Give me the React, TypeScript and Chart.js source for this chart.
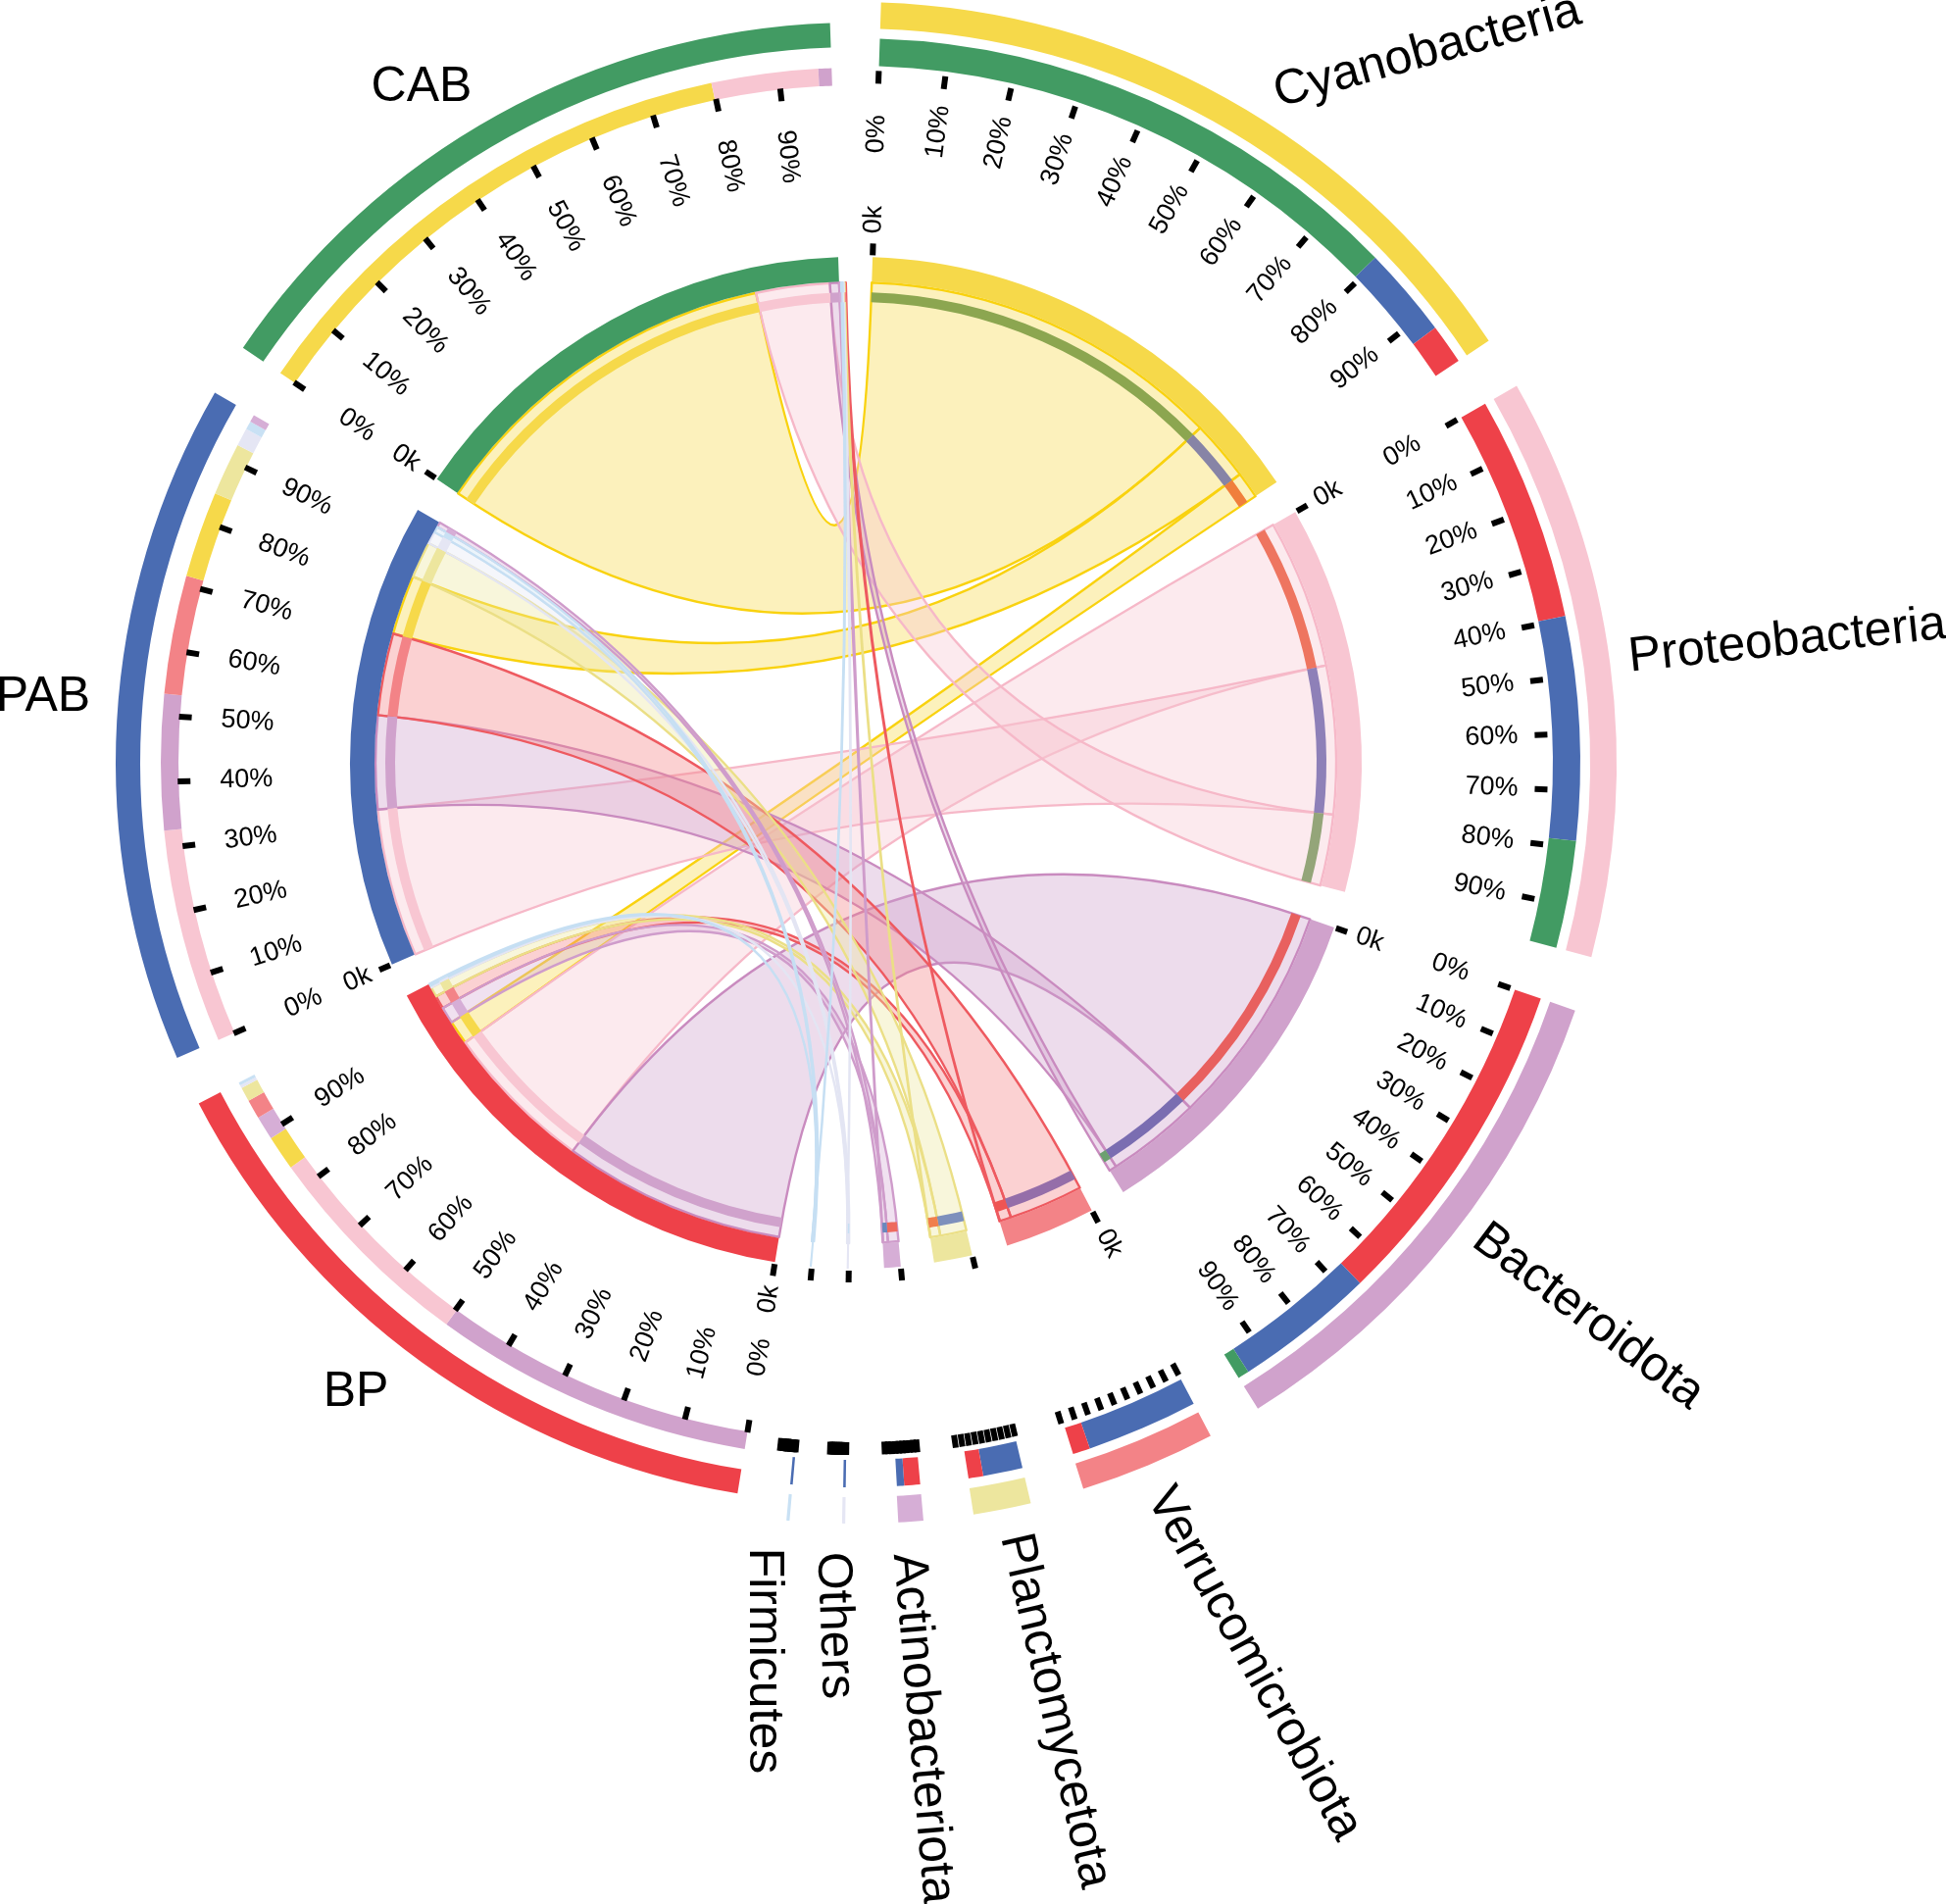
import React, { useEffect, useRef } from "react";
import { Chart, registerables } from "chart.js";

Chart.register(...registerables);

// ---------- data ----------
const sectorNames = ["Cyanobacteria", "Proteobacteria", "Bacteroidota", "Verrucomicrobiota", "Planctomycetota", "Actinobacteriota", "Others", "Firmicutes", "BP", "PAB", "CAB"];
const sectorTotals = [54.4, 44.5, 39.1, 10.4, 4.4, 1.9, 0.24, 0.24, 53.4, 53.5, 53.9];
const linkEndTotals = [54.4, 44.5, 39.1, 10.4, 4.4, 1.9, 0.24, 0.24, 53.4, 53.5, 54.7];
const sectorGaps = [4, 4.2, 4.1, 4.1, 3.8, 4, 3.96, 3.96, 3.9, 4.1, 2];
const leadGap = 1.9;
const tickTotals = [55.3, 45.6, 40.4, 11.7, 5.55, 3.0, 1.5, 1.45, 54, 54.8, 55];
const percentLabels = ["0%", "10%", "20%", "30%", "40%", "50%", "60%", "70%", "80%", "90%"];
const zeroLabel = "0k";
const labelledPercent = [0, 1, 2, 8, 9, 10];
const labelledZero = [0, 1, 2, 3, 8, 9, 10];
const leftSectors = [8, 9, 10];

const linkFrom = [0, 0, 0, 1, 1, 1, 2, 2, 2, 3, 3, 4, 4, 5, 5, 6, 6, 7, 7, 3, 4, 5, 6, 7];
const linkTo = [10, 9, 8, 8, 9, 10, 8, 9, 10, 9, 8, 9, 8, 8, 9, 9, 8, 9, 8, 10, 10, 10, 10, 10];
const linkFromValue = [43.9, 7.3, 3.2, 18, 17.9, 8.6, 26.9, 11.3, 0.9, 9, 1.4, 3.2, 1.2, 1.3, 0.6, 0.2, 0.02, 0.2, 0.02, 0.05, 0.05, 0.05, 0.02, 0.02];
const linkToValue = [43.9, 7.2, 2.9, 18.3, 17.9, 8.9, 26.9, 11.3, 1.1, 9.9, 1.6, 4.4, 1.2, 2.0, 0.6, 1.5, 0.25, 0.7, 0.25, 0.15, 0.1, 0.25, 0.15, 0.15];
const leftOrderBP = [6, 3, 2, 13, 10, 12, 16, 18];
const leftOrderPAB = [4, 7, 9, 1, 11, 15, 17, 14];
const leftOrderCAB = [0, 5, 8, 21, 23, 22, 20, 19];

// ---------- styles ----------
const sectorColors = ["#F6D94A", "#F8C6D2", "#D0A2CC", "#F38387", "#EDE69E", "#D6AED6", "#E5E6F4", "#C9E1F4", "#EE4149", "#4A6CB2", "#429B63"];
const linkStrokes = ["#F9D20F", "#F6B8C8", "#C98BBF", "#EE5A60", "#EBDF86", "#CF9CCB", "#E3E5F3", "#C6DFF3"];
const linkFillAlpha = "5F";
const rightInnerColors = ["#8CA650", "#8784A6", "#F07F3C", "#EE7560", "#8E80B8", "#94A579", "#E8605F", "#7A6DB1", "#6CA070", "#956EA9", "#EE5553", "#7E90BC", "#F07F4C", "#EE6A5E", "#6B88BD", "#C6DFF3", "#E3E5F3", "#C6DFF3", "#E3E5F3", "#EE5553", "#EDE69E", "#D6AED6", "#E3E5F3", "#C6DFF3"];
const CLEAR = "rgba(0,0,0,0)";

const FONT = '"Liberation Sans", Arial, sans-serif';
const RADII = {
  ringA: [491, 516],
  ringB: [470, 480],
  chord: 490,
  rightOuter: [749, 776],
  rightMid: [711, 739],
  leftOuter: [730, 755],
  leftMid: [691, 709],
  rightTick: [693, 706],
  leftTick: [679, 692],
  zeroTick: [518, 530],
  rightText: 622,
  leftText: 595,
  zeroText: 540,
};
const nameLayout: [number, number, number][] = [
  [1456, 53, -15.5],
  [1823, 654, -6],
  [1620, 1343, 37],
  [1279, 1697, 61],
  [1076, 1745, 77],
  [941, 1763, 85],
  [851, 1658, 88],
  [779, 1694, 90],
  [363, 1420, 0],
  [44, 711, 0],
  [430, 89, 0],
];

// ---------- ring builders ----------
type Tag = { link: number; side: "from" | "to" } | null;

function sectorLinks(s: number): { link: number; value: number; side: "from" | "to" }[] {
  if (leftSectors.includes(s)) {
    const order = s === 8 ? leftOrderBP : s === 9 ? leftOrderPAB : leftOrderCAB;
    return order.map((l) => ({ link: l, value: linkToValue[l], side: "to" as const }));
  }
  const out: { link: number; value: number; side: "from" | "to" }[] = [];
  linkFrom.forEach((f, l) => {
    if (f === s) out.push({ link: l, value: linkFromValue[l], side: "from" });
  });
  return out;
}

function segColor(l: number, side: "from" | "to") {
  return side === "from" ? sectorColors[linkTo[l]] : sectorColors[linkFrom[l]];
}

// whole sectors, only where keep(s)
function wholeRing(keep: (s: number) => boolean) {
  const data: number[] = [leadGap];
  const colors: string[] = [CLEAR];
  sectorTotals.forEach((t, s) => {
    data.push(t, sectorGaps[s]);
    colors.push(keep(s) ? sectorColors[s] : CLEAR, CLEAR);
  });
  return { data, colors };
}

// sectors split in their links, only where keep(s)
function splitRing(keep: (s: number) => boolean, inner: boolean) {
  const data: number[] = [leadGap];
  const colors: string[] = [CLEAR];
  const tags: Tag[] = [null];
  sectorTotals.forEach((t, s) => {
    const segs = sectorLinks(s);
    const sum = segs.reduce((a, b) => a + b.value, 0);
    const total = linkEndTotals[s];
    segs.forEach((seg) => {
      data.push((seg.value / sum) * total);
      const hiddenInOuterRing = !inner && (seg.side === "from" ? seg.value <= 0.05 : seg.link >= 19);
      const c = inner && seg.side === "from" ? rightInnerColors[seg.link] : segColor(seg.link, seg.side);
      colors.push(keep(s) && !hiddenInOuterRing ? c : CLEAR);
      tags.push({ link: seg.link, side: seg.side });
    });
    data.push(sectorGaps[s] + t - total);
    colors.push(CLEAR);
    tags.push(null);
  });
  return { data, colors, tags };
}

const isLeft = (s: number) => leftSectors.includes(s);
const isRight = (s: number) => !leftSectors.includes(s);
const ringA = wholeRing(() => true);
const ringB = splitRing(() => true, true);
const rightOuter = wholeRing(isRight);
const rightMid = splitRing(isRight, false);
const leftOuter = wholeRing(isLeft);
const leftMid = splitRing(isLeft, false);

const bandPlugin = {
  id: "bands",
  afterDatasetsUpdate(chart: any) {
    chart.data.datasets.forEach((ds: any, i: number) => {
      chart.getDatasetMeta(i).data.forEach((arc: any) => {
        arc.innerRadius = ds.band[0];
        arc.outerRadius = ds.band[1];
      });
    });
  },
};

const chordPlugin = {
  id: "chords",
  beforeDatasetsDraw(chart: any) {
    const ctx = chart.ctx as CanvasRenderingContext2D;
    const arcs = chart.getDatasetMeta(1).data;
    const fromArc: any[] = [];
    const toArc: any[] = [];
    ringB.tags.forEach((t, i) => {
      if (t) (t.side === "from" ? fromArc : toArc)[t.link] = arcs[i];
    });
    const cx = arcs[0].x;
    const cy = arcs[0].y;
    const r = RADII.chord;
    const pt = (a: number) => [cx + r * Math.cos(a), cy + r * Math.sin(a)];
    ctx.save();
    ctx.lineJoin = "round";
    linkFrom.forEach((f, l) => {
      const a = fromArc[l];
      const b = toArc[l];
      const p0 = pt(a.startAngle);
      const p1 = pt(b.startAngle);
      ctx.beginPath();
      ctx.moveTo(p0[0], p0[1]);
      ctx.arc(cx, cy, r, a.startAngle, a.endAngle, false);
      ctx.quadraticCurveTo(cx, cy, p1[0], p1[1]);
      ctx.arc(cx, cy, r, b.startAngle, b.endAngle, false);
      ctx.quadraticCurveTo(cx, cy, p0[0], p0[1]);
      ctx.closePath();
      ctx.fillStyle = sectorColors[f] + linkFillAlpha;
      ctx.fill();
      ctx.strokeStyle = linkStrokes[f];
      ctx.lineWidth = 2.4;
      ctx.stroke();
    });
    ctx.restore();
  },
};

const annotationPlugin = {
  id: "annotations",
  afterDatasetsDraw(chart: any) {
    const ctx = chart.ctx as CanvasRenderingContext2D;
    const arcs = chart.getDatasetMeta(0).data;
    const cx = arcs[0].x;
    const cy = arcs[0].y;
    const tick = (a: number, rr: number[]) => {
      ctx.beginPath();
      ctx.moveTo(cx + rr[0] * Math.cos(a), cy + rr[0] * Math.sin(a));
      ctx.lineTo(cx + rr[1] * Math.cos(a), cy + rr[1] * Math.sin(a));
      ctx.stroke();
    };
    const radial = (a: number, r: number, text: string) => {
      const onRight = a + Math.PI / 2 < Math.PI;
      ctx.save();
      ctx.translate(cx + r * Math.cos(a), cy + r * Math.sin(a));
      ctx.rotate(onRight ? a : a + Math.PI);
      ctx.textAlign = onRight ? "left" : "right";
      ctx.fillText(text, 0, 0);
      ctx.restore();
    };
    ctx.save();
    ctx.strokeStyle = "#000";
    ctx.lineWidth = 6;
    ctx.fillStyle = "#000";
    ctx.textBaseline = "middle";
    ctx.font = `27px ${FONT}`;
    sectorNames.forEach((_, s) => {
      const start = arcs[1 + 2 * s].startAngle;
      const left = isLeft(s);
      percentLabels.forEach((lab, i) => {
        const a = start + ((i / 10) * tickTotals[s] * Math.PI) / 180;
        tick(a, left ? RADII.leftTick : RADII.rightTick);
        if (labelledPercent.includes(s)) radial(a, left ? RADII.leftText : RADII.rightText, lab);
      });
      tick(start, RADII.zeroTick);
      if (labelledZero.includes(s)) radial(start, RADII.zeroText, zeroLabel);
    });
    ctx.font = `50px ${FONT}`;
    ctx.textAlign = "center";
    sectorNames.forEach((name, s) => {
      const [x, y, rot] = nameLayout[s];
      ctx.save();
      ctx.translate(x, y);
      ctx.rotate((rot * Math.PI) / 180);
      ctx.fillText(name, 0, 0);
      ctx.restore();
    });
    ctx.restore();
  },
};

export default function App() {
  const ref = useRef<HTMLCanvasElement>(null);
  useEffect(() => {
    const mk = (r: { data: number[]; colors: string[] }, band: number[]) => ({
      data: r.data,
      backgroundColor: r.colors,
      borderWidth: 0,
      band,
    });
    const chart = new Chart(ref.current as HTMLCanvasElement, {
      type: "doughnut",
      data: {
        labels: [],
        datasets: [
          mk(ringA, RADII.ringA),
          mk(ringB, RADII.ringB),
          mk(rightOuter, RADII.rightOuter),
          mk(rightMid, RADII.rightMid),
          mk(leftOuter, RADII.leftOuter),
          mk(leftMid, RADII.leftMid),
        ] as any,
      },
      options: {
        animation: false,
        responsive: false,
        devicePixelRatio: 1,
        events: [],
        layout: { padding: { right: 239, bottom: 386 } },
        plugins: { legend: { display: false }, tooltip: { enabled: false } },
      } as any,
      plugins: [bandPlugin, chordPlugin, annotationPlugin],
    });
    return () => chart.destroy();
  }, []);
  return (
    <canvas
      ref={ref}
      width={1985}
      height={1942}
      style={{ position: "absolute", left: 0, top: 0, display: "block", background: "#fff" }}
    />
  );
}
